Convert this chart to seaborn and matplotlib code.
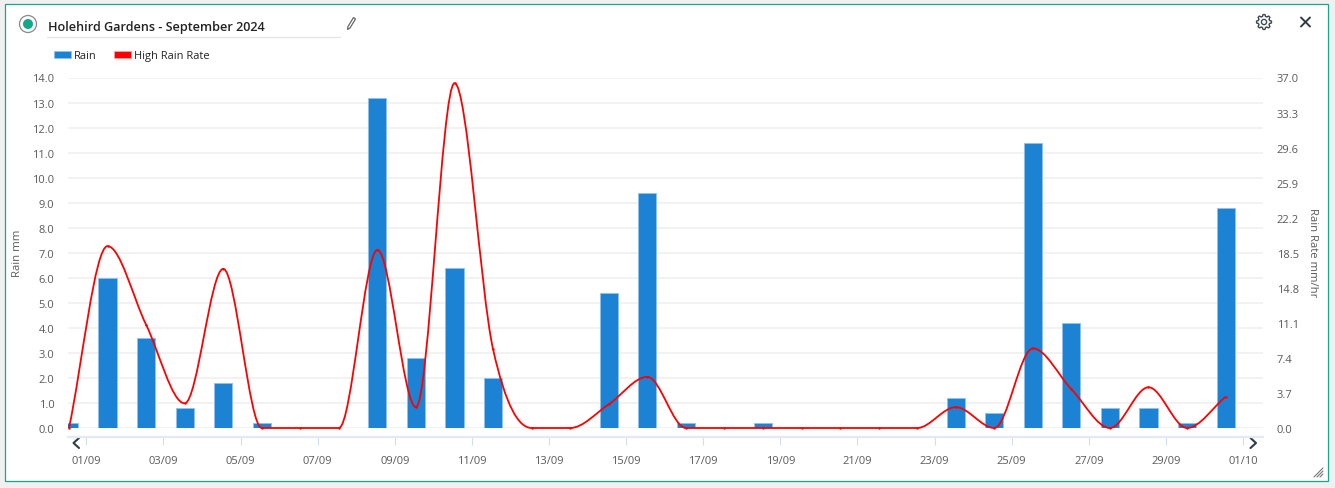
import numpy as np
import pandas as pd
import matplotlib
matplotlib.use("Agg")
import matplotlib.pyplot as plt
import seaborn as sns
from matplotlib.patches import Circle, PathPatch, Polygon, Rectangle
from matplotlib.path import Path

days = ["01/09", "02/09", "03/09", "04/09", "05/09", "06/09", "07/09", "08/09",
        "09/09", "10/09", "11/09", "12/09", "13/09", "14/09", "15/09", "16/09",
        "17/09", "18/09", "19/09", "20/09", "21/09", "22/09", "23/09", "24/09",
        "25/09", "26/09", "27/09", "28/09", "29/09", "30/09", "01/10"]
rain = [0.2, 6.0, 3.6, 0.8, 1.8, 0.2, 0.0, 0.0, 13.2, 2.8, 6.4, 2.0, 0.0, 0.0, 5.4, 9.4,
        0.2, 0.0, 0.2, 0.0, 0.0, 0.0, 0.0, 1.2, 0.6, 11.4, 4.2, 0.8, 0.8, 0.2, 8.8]
rain_rate = [0.0, 19.2, 10.9, 2.6, 16.8, 0.0, 0.0, 0.0, 18.8, 2.2, 36.4, 8.3, 0.0, 0.0, 2.5, 5.4,
             0.0, 0.0, 0.0, 0.0, 0.0, 0.0, 0.0, 2.2, 0.0, 8.4, 4.1, 0.0, 4.3, 0.0, 3.3]
date_labels = days[0::2]
left_ticks = [0.0, 1.0, 2.0, 3.0, 4.0, 5.0, 6.0, 7.0, 8.0, 9.0, 10.0, 11.0, 12.0, 13.0, 14.0]
right_ticks = [0.0, 3.7, 7.4, 11.1, 14.8, 18.5, 22.2, 25.9, 29.6, 33.3, 37.0]

W, H = 1335, 489
BLUE = "#1b82d4"
RED = "#ff0000"
TXT = "#5a5a5a"
GRID = "#efefef"
AXIS = "#e4e9f5"
GREEN = "#12a98b"


def smooth_path(ys):
    # bezier through the readings, flat at turning points like the original spline
    ys = np.asarray(ys, dtype=float)
    n = len(ys)
    slopes = np.zeros(n)
    for i in range(1, n - 1):
        if (ys[i] - ys[i - 1]) * (ys[i + 1] - ys[i]) > 0:
            slopes[i] = (ys[i + 1] - ys[i - 1]) / 2
    slopes[0] = ys[1] - ys[0]
    slopes[-1] = ys[-1] - ys[-2]
    verts = [(0, ys[0])]
    codes = [Path.MOVETO]
    for i in range(n - 1):
        verts += [(i + 1 / 3, ys[i] + slopes[i] / 3),
                  (i + 2 / 3, ys[i + 1] - slopes[i + 1] / 3),
                  (i + 1, ys[i + 1])]
        codes += [Path.CURVE4] * 3
    return Path(verts, codes)


sns.set_theme(style="white")
plt.rcParams["font.family"] = ["Open Sans", "DejaVu Sans"]

df = pd.DataFrame({"Day": days, "Rain": rain, "Rate": rain_rate, "Pos": range(len(days))})

fig = plt.figure(figsize=(W / 100, H / 100), dpi=100, facecolor="#f0f0f0")

# panel chrome in pixel coordinates
bg = fig.add_axes([0, 0, 1, 1], zorder=0)
bg.set_xlim(0, W)
bg.set_ylim(H, 0)
bg.axis("off")
bg.add_patch(Rectangle((4.5, 4.5), 1323.5, 477, fc="white", ec=GREEN, lw=0.9))
bg.add_patch(Circle((28, 25), 8.5, fc="white", ec="#8a8a8a", lw=0.9))
bg.add_patch(Circle((28, 25), 5, fc=GREEN, ec="none"))
bg.plot([47, 340], [37.5, 37.5], color="#e6e6e6", lw=1)
bg.text(47.5, 27, "Holehird Gardens - September 2024", fontsize=9.1, fontweight=600,
        color="#222222", va="center", ha="left")
# pencil
bg.add_patch(Polygon([(353.5, 18.5), (355.5, 20), (350, 29), (347.5, 30.5), (348, 27.5)],
                     fc="white", ec="#666666", lw=0.9))
# gear
ang = np.linspace(0, 2 * np.pi, 97)
gear_r = 6.6 + 0.9 * np.clip(3 * np.cos(8 * ang), -1, 1)
bg.plot(1264 + gear_r * np.cos(ang), 23 + gear_r * np.sin(ang), color="#3c4654", lw=0.95)
bg.add_patch(Circle((1264, 23), 2.6, fc="none", ec="#3c4654", lw=0.95))
# close
bg.plot([1301, 1310], [18.5, 27.5], color="#333b47", lw=1.4)
bg.plot([1301, 1310], [27.5, 18.5], color="#333b47", lw=1.4)
# scroll chevrons
bg.plot([79, 73.5, 79], [439, 444, 449], color="#333b47", lw=1.5)
bg.plot([1250.5, 1256, 1250.5], [439, 444, 449], color="#333b47", lw=1.5)
# resize grip
for k in (3, 6, 9):
    bg.plot([1323 - k, 1323], [478, 478 - k], color="#777777", lw=0.8)

# chart axes, placed from the pixel box of the plot
ax_l, ax_r, ax_t, ax_b = 68, 1263, 78.5, 429
ax = fig.add_axes([ax_l / W, 1 - ax_b / H, (ax_r - ax_l) / W, (ax_b - ax_t) / H], zorder=1)
ax.patch.set_alpha(0)

sns.barplot(data=df, x="Day", y="Rain", ax=ax, color=BLUE, saturation=1, width=0.47,
            edgecolor="#8fc2ec", linewidth=0.6, zorder=2)
ax.set_xlim(-0.026, 30.97)
ax.set_ylim(0, 14)
ax.set_yticks(left_ticks)
ax.set_yticklabels([f"{v:.1f}" for v in left_ticks])
ax.grid(axis="y", color=GRID, lw=1.1)
ax.set_axisbelow(True)
for sp in ("top", "left", "right"):
    ax.spines[sp].set_visible(False)
ax.spines["bottom"].set_position(("outward", 6.6))
ax.spines["bottom"].set_color(AXIS)
ax.spines["bottom"].set_linewidth(1.6)
ax.set_xticks([i + 0.45 for i in range(0, len(days), 2)])
ax.set_xticklabels(date_labels)
ax.tick_params(axis="x", length=6, width=0.8, color="#d5dcec", labelsize=8.0, labelcolor=TXT, pad=7, bottom=True)
ax.tick_params(axis="y", length=0, labelsize=8.0, labelcolor=TXT, pad=9.7)
ax.set_xlabel("")
ax.set_ylabel("")

ax2 = ax.twinx()
ax2.set_zorder(2)
ax2.patch.set_alpha(0)
ax2.add_patch(PathPatch(smooth_path(rain_rate), fc="none", ec=RED, lw=1.3, clip_on=False, zorder=3))
sns.scatterplot(data=df, x="Pos", y="Rate", ax=ax2, color=RED, s=3, linewidth=0, clip_on=False, zorder=3, legend=False)
ax2.set_ylim(0, 37)
ax2.set_yticks(right_ticks)
ax2.set_yticklabels([f"{v:.1f}" for v in right_ticks])
ax2.tick_params(axis="y", length=0, labelsize=8.0, labelcolor=TXT, pad=10)
ax2.grid(False)
for sp in ax2.spines.values():
    sp.set_visible(False)
ax2.set_xlabel("")
ax2.set_ylabel("")

fig.text(17 / W, 1 - 253 / H, "Rain mm", rotation=90, fontsize=8.2, color=TXT, ha="center", va="center")
fig.text(1312 / W, 1 - 253 / H, "Rain Rate mm/hr", rotation=270, fontsize=8.1, color=TXT, ha="center", va="center")

handles = [Rectangle((0, 0), 1, 1, fc=BLUE, ec="#8fc2ec", lw=0.6),
           Rectangle((0, 0), 1, 1, fc=RED, ec="#f7a0a0", lw=0.6)]
leg = fig.legend(handles, ["Rain", "High Rain Rate"], loc="upper left",
                 bbox_to_anchor=(51 / W, 1 - 48 / H), ncol=2, frameon=False,
                 fontsize=7.9, labelcolor="#222222", handlelength=1.55, handleheight=0.7,
                 handletextpad=0.25, columnspacing=1.55, borderpad=0.3, borderaxespad=0)

fig.savefig("out.png", dpi=100, facecolor=fig.get_facecolor())
